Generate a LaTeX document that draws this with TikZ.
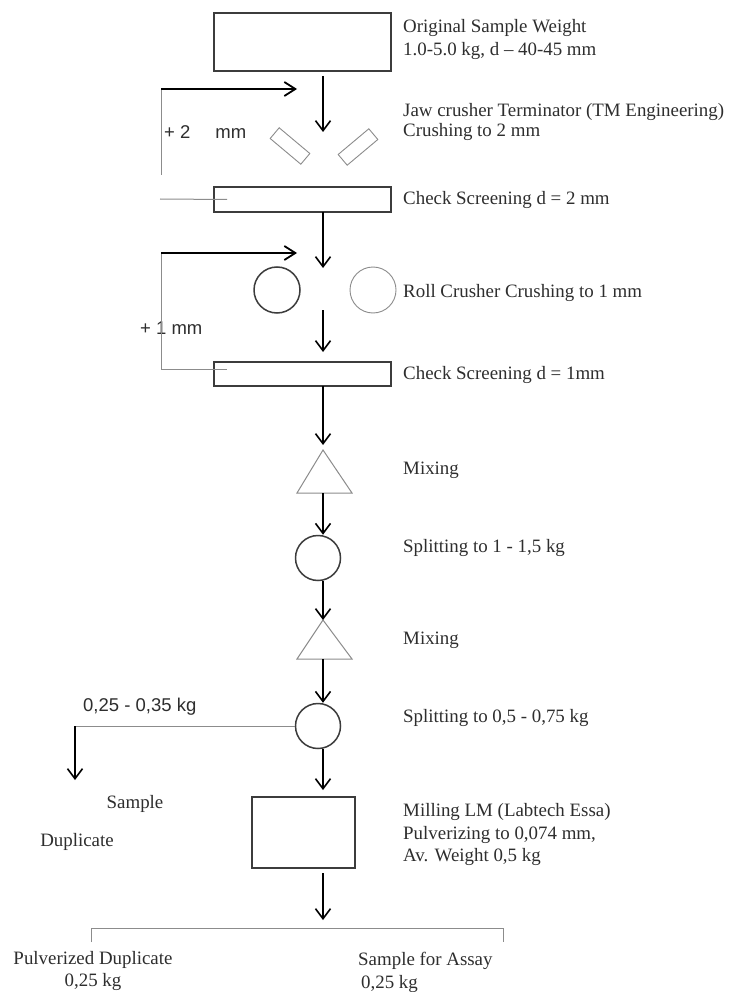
\documentclass[tikz,border=0pt]{standalone}
\usepackage{fontspec}
\setmainfont{Liberation Serif}
\setsansfont{Liberation Sans}
\usetikzlibrary{arrows.meta}
\definecolor{txt}{HTML}{2E2E2E}
\definecolor{edge}{HTML}{3C3C3C}
\definecolor{lightln}{HTML}{8C8C8C}
\begin{document}
\begin{tikzpicture}[x=1pt,y=-1pt,
  arr/.style={line width=1.8pt, black, -{Straight Barb[length=10pt,width=15pt,line width=1.6pt]}},
  feedarr/.style={line width=2.2pt, black, -{Straight Barb[length=11pt,width=14pt,line width=1.8pt]}},
  grayline/.style={line width=1pt, draw=lightln},
  procbox/.style={draw=edge, line width=1.7pt, inner sep=0pt, outer sep=0pt},
  plate/.style={draw=lightln, line width=0.9pt, inner sep=0pt, minimum width=40pt, minimum height=14pt},
  splitc/.style={circle, draw=edge, line width=1.5pt, inner sep=0pt, minimum size=45pt},
  rtext/.style={text=txt, font=\fontsize{18.9}{22.5}\selectfont, inner sep=0pt, align=left, anchor=west},
  ltext/.style={text=txt, font=\fontsize{18.9}{22.5}\selectfont, inner sep=0pt},
  stext/.style={text=txt, font=\sffamily\fontsize{18.5}{22}\selectfont, inner sep=0pt, anchor=west}]
\useasboundingbox (0,0) rectangle (729,992);
\fill[white] (0,0) rectangle (729,992);

% process boxes
\node[procbox, minimum width=177pt, minimum height=58pt] (orig) at (302.5,42) {};
\node[procbox, minimum width=177pt, minimum height=25pt] (scr1) at (302.5,199.5) {};
\node[procbox, minimum width=177pt, minimum height=24pt] (scr2) at (302.5,374) {};
\node[procbox, minimum width=103pt, minimum height=71pt] (mill) at (303.5,832.5) {};

% jaw crusher plates
\node[plate, rotate=-40] (jawL) at (290,146) {};
\node[plate, rotate=40] (jawR) at (358,147) {};

% roll crusher
\node[circle, draw=edge, line width=1.5pt, inner sep=0pt, minimum size=46pt] (rollL) at (277,290) {};
\node[circle, draw=lightln, line width=0.9pt, inner sep=0pt, minimum size=46pt] (rollR) at (373,290) {};

% splitters
\node[splitc] (sp1) at (318,558) {};
\node[splitc] (sp2) at (318,726) {};

% mixing triangles
\coordinate (t1top) at (323,450);
\coordinate (t1bot) at (323,493);
\coordinate (t2top) at (323,620);
\coordinate (t2bot) at (323,659);
\draw[draw=lightln, line width=1pt] (t1top) -- (352,493) -- (297,493) -- cycle;
\draw[draw=lightln, line width=1pt] (t2top) -- (352,659) -- (297,659) -- cycle;

% axis coordinates
\coordinate (ax) at (323,0);
\coordinate (jawin) at (323,132);
\coordinate (rollin) at (323,268);
\coordinate (rollout) at (323,310);
\coordinate (brtop) at (323,928);
\coordinate (brarr) at (323,920);

% main flow
\draw[arr, shorten <=5pt] (orig.south -| ax) -- (jawin);
\draw[arr] (scr1.south -| ax) -- (rollin);
\draw[arr, shorten >=10pt] (rollout) -- (scr2.north -| ax);
\draw[arr, shorten >=5pt] (scr2.south -| ax) -- (t1top);
\draw[arr] (t1bot) -- (sp1.north -| ax);
\draw[arr] (sp1.south -| ax) -- (t2top);
\draw[arr] (t2bot) -- (sp2.north -| ax);
\draw[arr, shorten >=7pt] (sp2.south -| ax) -- (mill.north -| ax);
\draw[arr, shorten <=5pt] (mill.south -| ax) -- (brarr);

% labels on left (drawn before lines)
\node[stext] (plus2) at (164,132) {+ 2\hspace{25pt}mm};
\node[stext] (plus1) at (140,328) {+ 1 mm};
\node[stext] (dupw) at (83,707) {0,25 - 0,35 kg};

% feedback loop 1
\coordinate (fb1a) at (161,89);
\coordinate (fb1b) at (297,89);
\coordinate (fb1c) at (161,175);
\coordinate (fb1d) at (160,199);
\draw[grayline] (fb1a) -- (fb1c);
\draw[grayline] (fb1d) -- ([xshift=13pt]scr1.west);
\draw[feedarr] (fb1a) -- (fb1b);

% feedback loop 2
\coordinate (fb2a) at (161,253);
\coordinate (fb2b) at (297,253);
\coordinate (fb2c) at (161,369);
\coordinate (fb2d) at (227,369);
\draw[grayline] (fb2a) -- (fb2c) -- (fb2d);
\draw[feedarr] (fb2a) -- (fb2b);

% duplicate branch
\coordinate (dupturn) at (75,726);
\coordinate (dupend) at (75,780);
\draw[grayline] (sp2.west) -- (dupturn);
\draw[arr] (dupturn) -- (dupend);

% bottom bracket
\coordinate (brL) at (91,942);
\coordinate (brR) at (503,942);
\draw[grayline] (brL) -- (brL |- brtop) -- (brR |- brtop) -- (brR);

% right-hand descriptions
\node[rtext] (d1) at (403,39.5) {Original Sample Weight\\1.0-5.0 kg, d – 40-45 mm};
\node[rtext] (d2) at (403,122) {Jaw crusher Terminator (TM Engineering)\\[-2.5pt]Crushing to 2 mm};
\node[rtext] (d3) at (403,200) {Check Screening d = 2 mm};
\node[rtext] (d4) at (403,293) {Roll Crusher Crushing to 1 mm};
\node[rtext] (d5) at (403,375) {Check Screening d = 1mm};
\node[rtext] (d6) at (403,470) {Mixing};
\node[rtext] (d7) at (403,548) {Splitting to 1 - 1,5 kg};
\node[rtext] (d8) at (403,640) {Mixing};
\node[rtext] (d9) at (403,718) {Splitting to 0,5 - 0,75 kg};
\node[rtext] (d10) at (403,834.5) {Milling LM (Labtech Essa)\\Pulverizing to 0,074 mm,\\Av. Weight 0,5 kg};

% left and bottom texts
\node[ltext] (sd1) at (135,804) {Sample};
\node[ltext] (sd2) at (77,842) {Duplicate};
\node[ltext, align=center] (pd) at (93,971) {Pulverized Duplicate\\0,25 kg};
\node[rtext] (sa) at (358,972.5) {Sample for Assay\\\hspace*{3pt}0,25 kg};
\end{tikzpicture}
\end{document}
